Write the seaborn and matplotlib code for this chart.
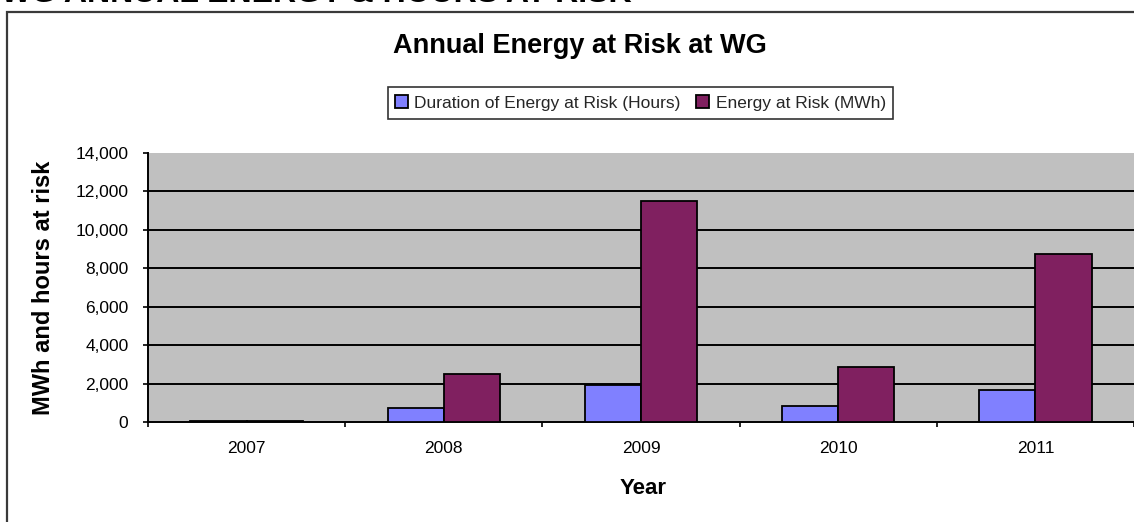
import matplotlib
matplotlib.use("Agg")
import matplotlib.pyplot as plt
from matplotlib.patches import Rectangle
import pandas as pd
import seaborn as sns

# Annual energy at risk at WG, by year
years = ["2007", "2008", "2009", "2010", "2011"]
hours_at_risk = [40, 750, 1900, 830, 1650]        # Duration of Energy at Risk (Hours)
energy_at_risk = [70, 2520, 11500, 2850, 8750]    # Energy at Risk (MWh)
series_names = ["Duration of Energy at Risk (Hours)", "Energy at Risk (MWh)"]
y_ticks = [0, 2000, 4000, 6000, 8000, 10000, 12000, 14000]

df = pd.DataFrame({
    "Year": years * 2,
    "Value": hours_at_risk + energy_at_risk,
    "Series": [series_names[0]] * len(years) + [series_names[1]] * len(years),
})

sns.set_theme(style="white")
plt.rcParams["font.family"] = ["Liberation Sans", "DejaVu Sans"]

W, H = 1134, 522
fig = plt.figure(figsize=(W / 100, H / 100), dpi=100)
fig.patch.set_facecolor("white")

# outer chart frame (continues past the right and bottom edges)
fig.patches.append(Rectangle((7 / W, -0.1), 1.2, (H - 12) / H + 0.1,
                             transform=fig.transFigure, fill=False,
                             edgecolor="#3a3a3a", linewidth=1.6, zorder=0))

# heading of the section above the chart, running off the top edge
fig.text(1 / W, 1 - 2 / H, "WG ANNUAL ENERGY & HOURS AT RISK", ha="left",
         va="baseline", fontsize=23, fontweight="bold", color="black")

ax = fig.add_axes([148 / W, 100 / H, 986 / W, 269 / H])
ax.set_facecolor("#C0C0C0")

palette = {series_names[0]: "#8080FF", series_names[1]: "#802060"}
sns.barplot(data=df, x="Year", y="Value", hue="Series", order=years,
            hue_order=series_names, palette=palette, saturation=1,
            width=0.57, edgecolor="black", linewidth=1.3, ax=ax, zorder=5)

handles, labels = ax.get_legend_handles_labels()
if ax.get_legend() is not None:
    ax.get_legend().remove()

ax.set_ylim(0, 14000)
ax.set_xlim(-0.5, len(years) - 0.5)

# horizontal gridlines at the inner tick values
for v in y_ticks[1:-1]:
    ax.axhline(v, color="black", linewidth=1.4, zorder=1)

for side in ["top", "right"]:
    ax.spines[side].set_visible(False)
for side in ["left", "bottom"]:
    ax.spines[side].set_color("black")
    ax.spines[side].set_linewidth(1.4)
    ax.spines[side].set_zorder(4)

ax.set_yticks(y_ticks)
ax.set_yticklabels([f"{v:,}" for v in y_ticks])
ax.tick_params(axis="y", which="major", direction="out", length=3.6, width=1.2,
               color="black", left=True, pad=10.5, labelsize=12.5, labelcolor="black")

# category boundaries carry the tick marks, centres carry the labels
ax.set_xticks([i - 0.5 for i in range(len(years) + 1)])
ax.set_xticklabels([""] * (len(years) + 1))
ax.set_xticks(range(len(years)), minor=True)
ax.set_xticklabels(years, minor=True)
ax.tick_params(axis="x", which="major", direction="out", length=3.6, width=1.2,
               color="black", bottom=True)
ax.tick_params(axis="x", which="minor", length=0, pad=14, labelsize=12.5,
               labelcolor="black")

ax.set_xlabel("Year", fontsize=16, fontweight="bold", color="black", va="center")
ax.xaxis.set_label_coords(0.502, -0.249)
ax.set_ylabel("MWh and hours at risk", fontsize=17, fontweight="bold",
              color="black", va="center")
ax.yaxis.set_label_coords(-0.1055, 0.5)

fig.text(579.5 / W, 1 - 46 / H, "Annual Energy at Risk at WG", ha="center",
         va="center", fontsize=19.5, fontweight="bold", color="black")

leg = fig.legend(handles, labels, loc="center", bbox_to_anchor=(640.5 / W, 1 - 103 / H),
                 ncol=2, fontsize=12.5, frameon=True, fancybox=False,
                 edgecolor="black", handlelength=0.75, handleheight=0.75,
                 handletextpad=0.35, columnspacing=0.9, borderpad=0.45,
                 borderaxespad=0)
leg.get_frame().set_linewidth(1.2)

fig.savefig("out.png", dpi=100, facecolor="white")
